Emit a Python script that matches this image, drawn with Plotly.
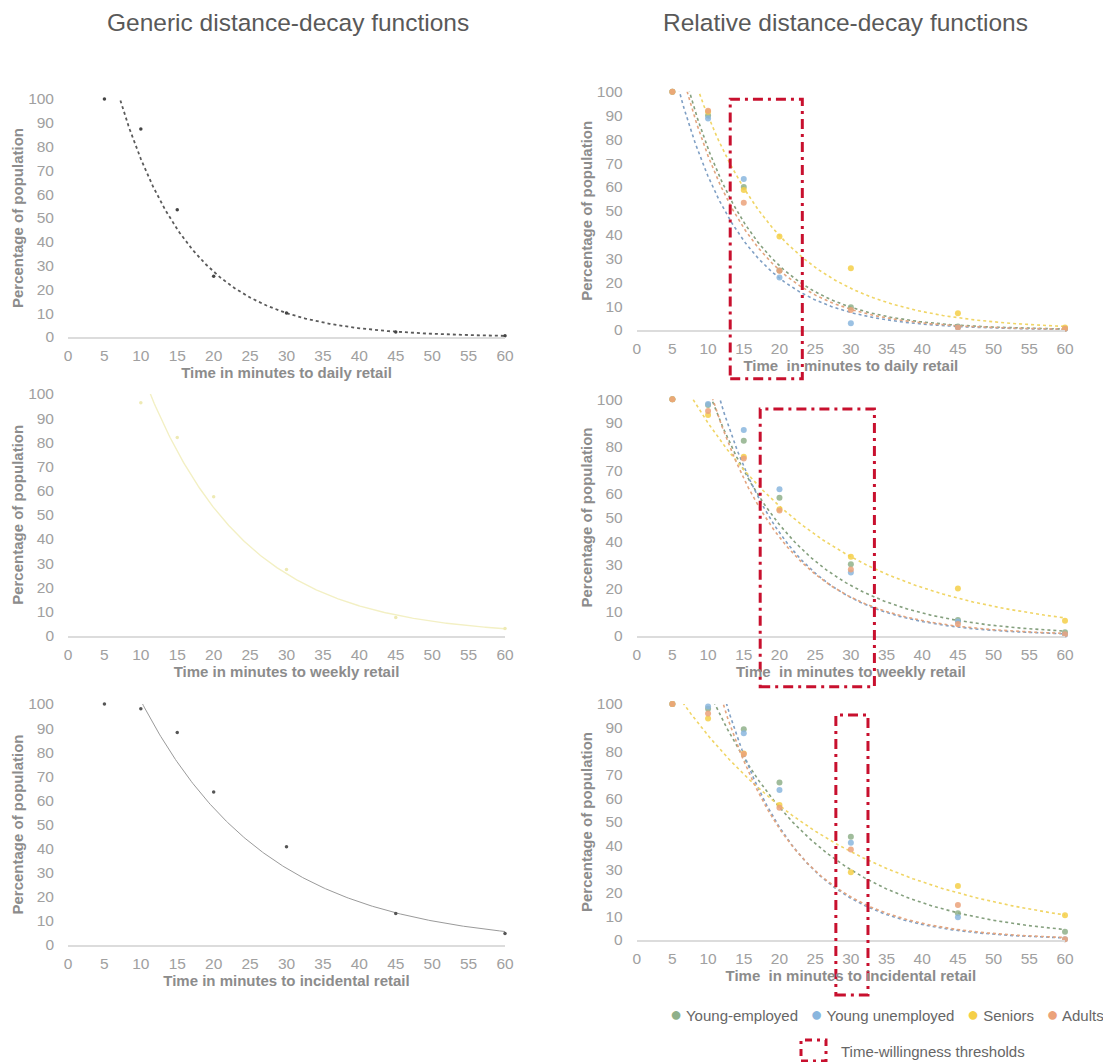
import numpy as np
import plotly.graph_objects as go

# ---------------- data ----------------
minutes = [5, 10, 15, 20, 30, 45, 60]
weekly_minutes = [10, 15, 20, 30, 45, 60]

generic_daily = [100, 87.4, 53.5, 25.5, 10.1, 2.1, 0.5]
generic_weekly = [96.4, 82, 57.5, 27.4, 7.5, 3]
generic_incidental = [100, 98, 88.2, 63.5, 40.8, 13.1, 4.8]

groups = ["Young-employed", "Young unemployed", "Seniors", "Adults"]

daily_young_employed = [100, 90, 60, 25, 9.5, 1.5, 0.5]
daily_young_unemployed = [100, 88.8, 63.4, 22, 2.8, 1, 0.5]
daily_seniors = [100, 91.6, 58.7, 39.2, 25.9, 7, 1]
daily_adults = [100, 92, 53.4, 24.9, 8.4, 1, 0.5]

weekly_young_employed = [100, 97.6, 82.5, 58.4, 30.2, 6.6, 1.5]
weekly_young_unemployed = [100, 98, 87, 61.9, 26.7, 6, 0.4]
weekly_seniors = [100, 93.4, 75.7, 53.5, 33.4, 20, 6.3]
weekly_adults = [100, 95, 75, 53, 28, 5, 0.6]

incidental_young_employed = [100, 98, 89.3, 66.7, 43.8, 11.3, 3.5]
incidental_young_unemployed = [100, 98.9, 87.6, 63.6, 41.2, 9.6, 0.3]
incidental_seniors = [100, 93.9, 79, 57.2, 28.7, 22.9, 10.5]
incidental_adults = [100, 96, 78.8, 56, 38.4, 14.8, 0.3]

# time-willingness thresholds (minutes) for daily, weekly, incidental
threshold_low = [13.1, 17.3, 27.9]
threshold_high = [23.2, 33.3, 32.4]

x_ticks = list(range(0, 61, 5))
y_ticks = list(range(0, 101, 10))

x_titles_generic = ["Time in minutes to daily retail",
                    "Time in minutes to weekly retail",
                    "Time in minutes to incidental retail"]
x_titles_relative = ["Time\u00a0 in minutes to daily retail",
                     "Time\u00a0 in minutes to weekly retail",
                     "Time\u00a0 in minutes to incidental retail"]

# ---------------- styling ----------------
OFF = 8  # page body margin
W, H = 1111 - OFF, 1062 - OFF
FONT = "Liberation Sans, Arial, sans-serif"
group_marker_colors = ["#8fb08a", "#8ab6de", "#f5cf48", "#eba27a"]
group_line_colors = ["#85a07e", "#7f9fc4", "#f0d565", "#e3a47e"]


def fx(p):
    return (p - OFF) / W


def fy(p):
    return 1 - (p - OFF) / H


def exp_fit(xs, ys):
    b, ln_a = np.polyfit(np.array(xs, float), np.log(np.array(ys, float)), 1)
    return np.exp(ln_a), b


def curve(xs, ys):
    a, b = exp_fit(xs, ys)
    grid = np.linspace(min(xs), max(xs), 300)
    return grid, a * np.exp(b * grid)


fig = go.Figure()

left_x = [fx(68), fx(505)]
right_x = [fx(636.7), fx(1065)]
ydom = {
    1: [fy(337), fy(99)],
    2: [fy(330), fy(91.7)],
    3: [fy(635.7), fy(394)],
    4: [fy(635.7), fy(399.3)],
    5: [fy(945), fy(704)],
    6: [fy(940), fy(704)],
}


def axid(i, letter):
    return letter if i == 1 else f"{letter}{i}"


# ---- generic panels ----
generic_sets = [
    (1, minutes, generic_daily, "#5a5a5a", "dot", 1.8, "#444444"),
    (3, weekly_minutes, generic_weekly, "#f3f0c4", "solid", 1.4, "#eeeab4"),
    (5, minutes, generic_incidental, "#9a9a9a", "solid", 1.0, "#555555"),
]
for idx, xs, ys, lc, dash, lw, mc in generic_sets:
    gx, gy = curve(xs, ys)
    fig.add_trace(go.Scatter(x=gx, y=gy, mode="lines", line=dict(color=lc, dash=dash, width=lw),
                             xaxis=axid(idx, "x"), yaxis=axid(idx, "y"), showlegend=False,
                             hoverinfo="skip"))
    fig.add_trace(go.Scatter(x=xs, y=ys, mode="markers", marker=dict(color=mc, size=3.5),
                             xaxis=axid(idx, "x"), yaxis=axid(idx, "y"), showlegend=False,
                             cliponaxis=False))

# ---- relative panels ----
relative_sets = [
    (2, [daily_young_employed, daily_young_unemployed, daily_seniors, daily_adults]),
    (4, [weekly_young_employed, weekly_young_unemployed, weekly_seniors, weekly_adults]),
    (6, [incidental_young_employed, incidental_young_unemployed, incidental_seniors, incidental_adults]),
]
for idx, series in relative_sets:
    for g, ys in enumerate(series):
        gx, gy = curve(minutes, ys)
        fig.add_trace(go.Scatter(x=gx, y=gy, mode="lines",
                                 line=dict(color=group_line_colors[g], dash="dot", width=1.6),
                                 xaxis=axid(idx, "x"), yaxis=axid(idx, "y"), showlegend=False,
                                 hoverinfo="skip"))
    for g in range(4):
        fig.add_trace(go.Scatter(x=minutes, y=series[g], mode="markers", name=groups[g],
                                 marker=dict(color=group_marker_colors[g], size=6, opacity=0.85),
                                 xaxis=axid(idx, "x"), yaxis=axid(idx, "y"), showlegend=False,
                                 cliponaxis=False))

layout = dict(
    width=W, height=H, margin=dict(l=0, r=0, t=0, b=0, pad=0, autoexpand=False),
    paper_bgcolor="white", plot_bgcolor="white",
    font=dict(family=FONT, color="#999999"),
    showlegend=False,
)

for i in range(1, 7):
    left = i in (1, 3, 5)
    row = (i - 1) // 2
    title = x_titles_generic[row] if left else x_titles_relative[row]
    layout["xaxis" if i == 1 else f"xaxis{i}"] = dict(
        domain=left_x if left else right_x, anchor=axid(i, "y"),
        range=[0, 60], tickvals=x_ticks, showgrid=False, zeroline=False,
        showline=True, linecolor="#dcdcdc", linewidth=1.5, ticks="",
        ticklabelstandoff=4, automargin=False,
        tickfont=dict(size=15.5, color="#a0a0a0", family=FONT),
        title=dict(text=f"<b>{title}</b>", standoff=1,
                   font=dict(size=15, color="#8c8c8c", family=FONT)),
    )
    layout["yaxis" if i == 1 else f"yaxis{i}"] = dict(
        domain=ydom[i], anchor=axid(i, "x"),
        range=[0, 100], tickvals=y_ticks, showgrid=False, zeroline=False,
        showline=False, ticks="", ticklabelstandoff=13, automargin=False,
        tickfont=dict(size=15.5, color="#a0a0a0", family=FONT),
        title=dict(text="<b>Percentage of population</b>", standoff=0,
                   font=dict(size=15, color="#8c8c8c", family=FONT)),
    )

fig.update_layout(**layout)

# panel headings
fig.add_annotation(text="Generic distance-decay functions", x=fx(287.5), y=fy(22),
                   xref="paper", yref="paper", showarrow=False, xanchor="center", yanchor="middle",
                   font=dict(size=24.5, color="#595959", family=FONT))
fig.add_annotation(text="Relative distance-decay functions", x=fx(845), y=fy(22),
                   xref="paper", yref="paper", showarrow=False, xanchor="center", yanchor="middle",
                   font=dict(size=24.5, color="#595959", family=FONT))

# time-willingness threshold rectangles
rect_tops = [0.968, 0.959, 0.953]
rect_bottoms = [-0.205, -0.216, -0.233]
for k, idx in enumerate([2, 4, 6]):
    fig.add_shape(type="rect", xref=axid(idx, "x"), yref=f"{axid(idx, 'y')} domain",
                  x0=threshold_low[k], x1=threshold_high[k], y0=rect_bottoms[k], y1=rect_tops[k],
                  line=dict(color="#c8102e", width=3, dash="10px,5px,3px,5px"),
                  fillcolor="rgba(0,0,0,0)", layer="above")

# legend
legend_text = "&nbsp;&nbsp;&nbsp;".join(
    f'<span style="color:{group_marker_colors[g]};font-size:20px">●</span> {groups[g]}'
    for g in range(4))
fig.add_annotation(text=legend_text, x=fx(1106), y=fy(1014), xref="paper", yref="paper",
                   showarrow=False, xanchor="right", yanchor="middle",
                   font=dict(size=15, color="#666666", family=FONT))
fig.add_shape(type="rect", xref="paper", yref="paper",
              x0=fx(801), x1=fx(826), y0=fy(1061), y1=fy(1040),
              line=dict(color="#c8102e", width=3, dash="7px,5px,3px,5px"))
fig.add_annotation(text="Time-willingness thresholds", x=fx(839), y=fy(1051),
                   xref="paper", yref="paper", showarrow=False, xanchor="left", yanchor="middle",
                   font=dict(size=15, color="#666666", family=FONT))

fig.write_html("out.html")
